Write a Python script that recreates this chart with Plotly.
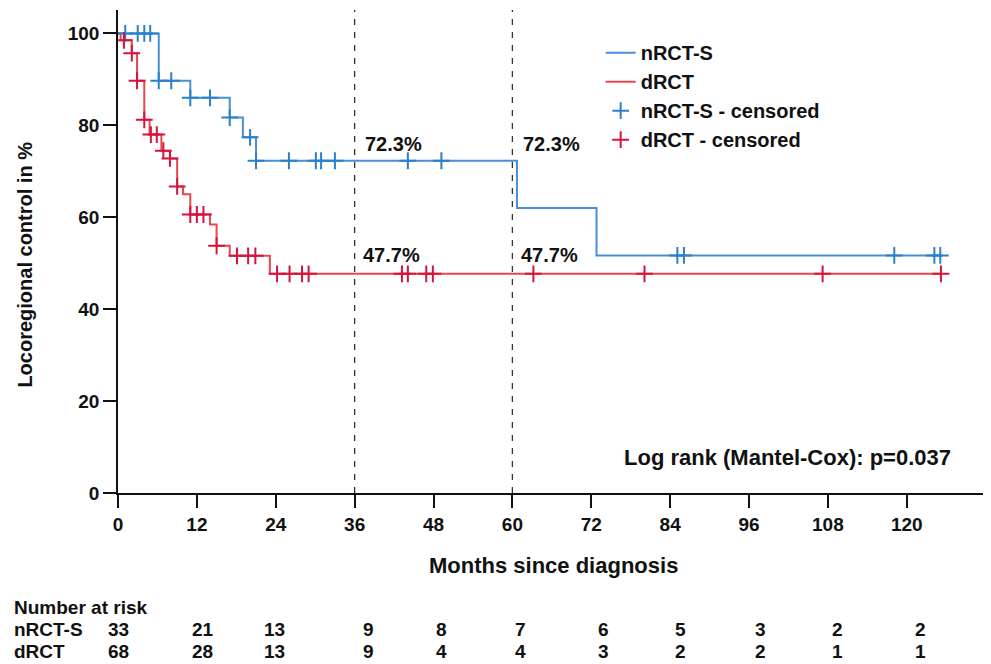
import plotly.graph_objects as go

# ---------------- data ----------------
# nRCT-S Kaplan-Meier step curve (months, % locoregional control)
nrct_t = [0, 6.2, 11.0, 17.0, 19.0, 21.0, 60.7, 72.8, 125.1]
nrct_s = [100, 89.7, 86.0, 81.7, 77.4, 72.3, 62.0, 51.7, 51.7]
nrct_cens_t = [1.1, 3.0, 4.0, 4.9, 6.2, 8.1, 11.0, 14.0, 17.0, 20.1,
               21.0, 26.0, 30.1, 30.9, 33.0, 44.1, 49.2,
               85.1, 86.1, 118.1, 124.2, 125.1]

# dRCT Kaplan-Meier step curve
drct_t = [0, 0.4, 2.1, 2.9, 4.0, 4.8, 6.6, 7.9, 9.0, 9.9, 11.0, 14.0, 15.0,
          17.0, 23.1, 125.2]
drct_s = [100, 98.5, 95.7, 89.7, 81.2, 78.0, 74.5, 72.8, 66.7, 65.0, 60.6,
          58.4, 53.8, 51.6, 47.7, 47.7]
drct_cens_t = [0.9, 2.1, 2.9, 4.0, 5.0, 5.9, 6.9, 7.9, 9.0, 11.0, 12.0, 13.0,
               15.0, 18.1, 19.8, 20.9, 24.2, 26.1, 28.0, 29.0,
               43.2, 44.1, 46.9, 47.9, 63.2, 80.1, 107.2, 125.2]

landmark_months = [36, 60]
nrct_landmark = [72.3, 72.3]
drct_landmark = [47.7, 47.7]

risk_months = [0, 12, 24, 36, 48, 60, 72, 84, 96, 108, 120]
risk_nrct = [33, 21, 13, 9, 8, 7, 6, 5, 3, 2, 2]
risk_drct = [68, 28, 13, 9, 4, 4, 3, 2, 2, 1, 1]

p_text = "Log rank (Mantel-Cox): p=0.037"

# ---------------- helpers ----------------
def step_value(times, surv, t):
    v = surv[0]
    for ti, si in zip(times, surv):
        if ti <= t:
            v = si
    return v

FONT = "Liberation Sans, Arial, sans-serif"
INK = "#111111"
BLUE_L, RED_L = "#4A8FD6", "#E8474F"
BLUE_C, RED_C = "#2B80CC", "#D3143F"

def bfont(size):
    return dict(family=FONT, size=size, color=INK, weight="bold")

fig = go.Figure()
fig.add_trace(go.Scatter(x=nrct_t, y=nrct_s, mode="lines", line_shape="hv",
                         line=dict(color=BLUE_L, width=2), name="nRCT-S"))
fig.add_trace(go.Scatter(x=drct_t, y=drct_s, mode="lines", line_shape="hv",
                         line=dict(color=RED_L, width=2), name="dRCT"))
fig.add_trace(go.Scatter(x=nrct_cens_t,
                         y=[step_value(nrct_t, nrct_s, t) for t in nrct_cens_t],
                         mode="markers", name="nRCT-S - censored",
                         marker=dict(symbol="cross-thin", size=12,
                                     line=dict(color=BLUE_C, width=2))))
fig.add_trace(go.Scatter(x=drct_cens_t,
                         y=[step_value(drct_t, drct_s, t) for t in drct_cens_t],
                         mode="markers", name="dRCT - censored",
                         marker=dict(symbol="cross-thin", size=12,
                                     line=dict(color=RED_C, width=2))))

for m in landmark_months:
    fig.add_shape(type="line", xref="x", yref="paper", x0=m, x1=m, y0=0, y1=1,
                  line=dict(color="#333333", width=1.3, dash="6px,7px"))

for m, v in zip(landmark_months, nrct_landmark):
    fig.add_annotation(x=m + 1.3, y=v + 3.6, text=f"{v}%", showarrow=False,
                       xanchor="left", yanchor="middle", font=bfont(20))
for m, v in zip(landmark_months, drct_landmark):
    fig.add_annotation(x=m + 1.0, y=v + 4.0, text=f"{v}%", showarrow=False,
                       xanchor="left", yanchor="middle", font=bfont(20))

fig.add_annotation(x=127.0, y=7.8, text=p_text, showarrow=False,
                   xanchor="right", yanchor="middle", font=bfont(22))

# axis titles
fig.add_annotation(xref="paper", yref="paper", x=-0.108, y=0.472,
                   text="Locoregional control in %", textangle=-90,
                   showarrow=False, xanchor="center", yanchor="middle",
                   font=bfont(20))
fig.add_annotation(xref="paper", yref="paper", x=0.503, y=-0.150,
                   text="Months since diagnosis", showarrow=False,
                   xanchor="center", yanchor="middle", font=bfont(22))

# number at risk table
risk_xshift = [0, 6, -1, 14, 8, 8, 12, 10, 11, 10, 14]
fig.add_annotation(xref="paper", yref="paper", x=-0.122, y=-0.238,
                   text="Number at risk", showarrow=False, xanchor="left",
                   yanchor="middle", font=bfont(19))
for row_name, row_vals, ry in (("nRCT-S", risk_nrct, -0.283),
                               ("dRCT", risk_drct, -0.328)):
    fig.add_annotation(xref="paper", yref="paper", x=-0.122, y=ry,
                       text=row_name, showarrow=False, xanchor="left",
                       yanchor="middle", font=bfont(19))
    for m, n, dx in zip(risk_months, row_vals, risk_xshift):
        fig.add_annotation(xref="x", yref="paper", x=m, y=ry, text=str(n),
                           showarrow=False, xanchor="center", yanchor="middle",
                           xshift=dx, font=bfont(19))

axis_common = dict(showline=True, linecolor=INK, linewidth=1.5,
                   ticks="outside", ticklen=13, tickwidth=1.5,
                   tickcolor=INK, showgrid=False, zeroline=False,
                   tickfont=bfont(19))
fig.update_xaxes(range=[0, 131.6], tickvals=risk_months, **axis_common)
fig.update_yaxes(range=[0, 105.1], tickvals=[0, 20, 40, 60, 80, 100],
                 **axis_common)

# the page body adds an 8px offset; size the figure so it fills the window
fig.update_layout(
    width=983, height=656,
    margin=dict(l=110, r=8, t=2, b=171),
    paper_bgcolor="white", plot_bgcolor="white",
    legend=dict(x=0.558, y=0.952, xanchor="left", yanchor="top",
                bgcolor="rgba(0,0,0,0)", itemwidth=30, tracegroupgap=0,
                font=bfont(20)),
    showlegend=True,
)

fig.write_html("out.html")
